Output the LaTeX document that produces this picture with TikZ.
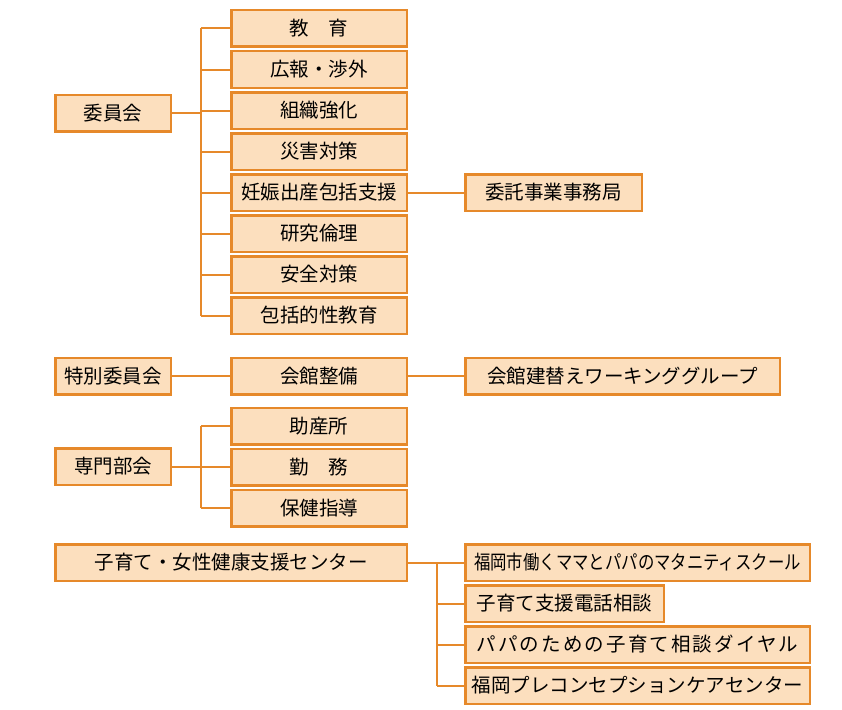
\documentclass[tikz,border=0pt]{standalone}
\usepackage{fontspec}
\setmainfont{Noto Sans CJK JP}
\newfontfamily\widejp[LetterSpace=11]{Noto Sans CJK JP}
\usepackage{xcolor}
\usepackage{tikz}
\usetikzlibrary{calc}
\usetikzlibrary{positioning}

\definecolor{unitline}{HTML}{E6892A}
\definecolor{unitfill}{HTML}{FCDFBE}

\tikzset{
  unit/.style={rectangle, draw=unitline, fill=unitfill, line width=2.5pt,
    inner sep=0pt, minimum height=36.5pt,
    font=\fontsize{19.5}{21}\selectfont},
  head/.style={unit, minimum width=115.5pt},
  sub/.style={unit, minimum width=175.5pt},
  link/.style={draw=unitline, line width=2pt}
}

\begin{document}
\begin{tikzpicture}[x=1pt, y=-1pt]
 \useasboundingbox (0,0) rectangle (842,709);

 % 委員会
 \node [head] (C) at (113, 113) {委員会};
 \node [sub] (C1) at (319, 28.5) {教　育};
 \node [sub] (C2) at (319, 69.5) {広報・渉外};
 \node [sub] (C3) at (319, 110.5) {組織強化};
 \node [sub] (C4) at (319, 151.5) {災害対策};
 \node [sub] (C5) at (319, 192.5) {妊娠出産包括支援};
 \node [sub] (C6) at (319, 233.5) {研究倫理};
 \node [sub] (C7) at (319, 274.5) {安全対策};
 \node [sub] (C8) at (319, 315.5) {包括的性教育};
 \node [unit, minimum width=176.5pt] (E) at (553.5, 192.5) {委託事業事務局};
 \coordinate (T) at (201, 113);
 \draw [link] (C.east) -- (T);
 \draw [link] (T |- C1) -- (T |- C8);
 \draw [link] (T |- C1) -- (C1.west);
 \draw [link] (T |- C2) -- (C2.west);
 \draw [link] (T |- C3) -- (C3.west);
 \draw [link] (T |- C4) -- (C4.west);
 \draw [link] (T |- C5) -- (C5.west);
 \draw [link] (T |- C6) -- (C6.west);
 \draw [link] (T |- C7) -- (C7.west);
 \draw [link] (T |- C8) -- (C8.west);
 \draw [link] (C5.east) -- (E.west);

 % 特別委員会
 \node [head] (S) at (113, 376) {特別委員会};
 \node [sub] (S1) at (319, 376) {会館整備};
 \node [unit, minimum width=314.5pt] (W) at (622.5, 376) {会館建替えワーキンググループ};
 \draw [link] (S.east) -- (S1.west);
 \draw [link] (S1.east) -- (W.west);

 % 専門部会
 \node [head] (P) at (113, 466.5) {専門部会};
 \node [sub] (P1) at (319, 426) {助産所};
 \node [sub] (P2) at (319, 467) {勤　務};
 \node [sub] (P3) at (319, 508) {保健指導};
 \coordinate (U) at (201, 466.5);
 \draw [link] (P.east) -- (U);
 \draw [link] (U |- P1) -- (U |- P3);
 \draw [link] (U |- P1) -- (P1.west);
 \draw [link] (U |- P2) -- (P2.west);
 \draw [link] (U |- P3) -- (P3.west);

 % 子育て・女性健康支援センター
 \node [unit, minimum width=351.5pt] (K) at (231, 562.5) {子育て・女性健康支援センター};
 \node [unit, minimum width=344.5pt] (K1) at (637.5, 562.5) {\scalebox{0.84}[1]{福岡市働くママとパパのマタニティスクール}};
 \node [unit, minimum width=198.5pt] (K2) at (564.5, 603.5) {子育て支援電話相談};
 \node [unit, minimum width=344.5pt, font=\fontsize{19.5}{21}\widejp] (K3) at (637.5, 644.5) {パパのための子育て相談ダイヤル};
 \node [unit, minimum width=344.5pt] (K4) at (637.5, 685.5) {福岡プレコンセプションケアセンター};
 \coordinate (V) at (437, 562.5);
 \draw [link] (K.east) -- (V);
 \draw [link] (V) -- (V |- K4);
 \draw [link] (V) -- (K1.west);
 \draw [link] (V |- K2) -- (K2.west);
 \draw [link] (V |- K3) -- (K3.west);
 \draw [link] (V |- K4) -- (K4.west);
\end{tikzpicture}
\end{document}
